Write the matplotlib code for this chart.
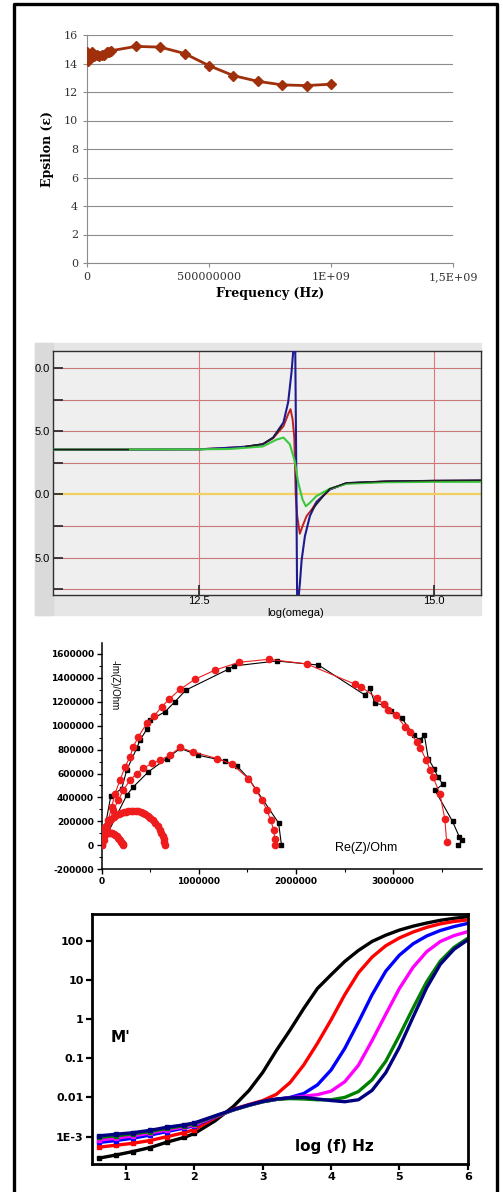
import numpy as np
import matplotlib
matplotlib.use('Agg')
import matplotlib.pyplot as plt
from matplotlib.lines import Line2D
from matplotlib.patches import Rectangle
from matplotlib.ticker import MultipleLocator, FuncFormatter, NullLocator

W, H = 503, 1192  # output size in pixels

# ---- panel 1 : epsilon vs frequency
freq = [1e6, 5e6, 1e7, 2e7, 3e7, 4e7, 5e7, 6e7, 7e7, 8e7, 9e7, 1e8,
        2e8, 3e8, 4e8, 5e8, 6e8, 7e8, 8e8, 9e8, 1e9]
eps = [14.8, 14.2, 14.6, 14.8, 14.5, 14.6, 14.5, 14.6, 14.6, 14.8, 14.8, 14.9,
       15.2, 15.15, 14.7, 13.85, 13.15, 12.75, 12.5, 12.45, 12.55]
freq_ticks = [0, 5e8, 1e9, 1.5e9]
freq_ticklabels = ['0', '500000000', '1E+09', '1,5E+09']

# ---- panel 2 : eps'(log omega), three dampings (+ black reference)
w_blue = [10.95, 12.0, 12.5, 12.83, 13.0, 13.18, 13.29, 13.40, 13.45, 13.486, 13.50, 13.51,
          13.525, 13.535, 13.545, 13.56, 13.575, 13.593, 13.628, 13.681, 13.752, 13.894,
          14.07, 14.5, 15.0, 15.5]
e_blue = [3.55, 3.55, 3.57, 3.7, 3.78, 3.97, 4.5, 5.7, 7.3, 9.7, 11.0, 11.8,
          11.8, 3.0, -8.0, -8.2, -7.0, -5.2, -3.3, -1.7, -0.6, 0.4,
          0.9, 1.03, 1.08, 1.1]
w_red = [10.95, 12.5, 12.83, 13.0, 13.18, 13.29, 13.40, 13.45, 13.475, 13.497, 13.515,
         13.53, 13.546, 13.574, 13.603, 13.646, 13.70, 13.75, 13.89, 14.07, 14.5, 15.0, 15.5]
e_red = [3.55, 3.57, 3.7, 3.78, 3.97, 4.45, 5.4, 6.35, 6.75, 5.95, 4.5,
         0.0, -1.7, -3.1, -2.5, -1.7, -1.2, -0.6, 0.4, 0.88, 1.03, 1.08, 1.1]
w_green = [10.95, 12.5, 12.83, 13.18, 13.33, 13.40, 13.468, 13.52, 13.557, 13.603, 13.638,
           13.68, 13.75, 13.89, 14.07, 14.5, 15.0, 15.5]
e_green = [3.55, 3.57, 3.6, 3.8, 4.35, 4.5, 3.97, 2.64, 0.93, -0.4, -0.93,
           -0.66, -0.13, 0.45, 0.85, 0.97, 1.0, 1.0]
w_black = [10.95, 11.75, np.nan, 13.0, 13.18, 13.29, 13.38, np.nan,
           13.70, 13.89, 14.07, 14.5, 15.0, 15.5]
e_black = [3.55, 3.55, np.nan, 3.8, 4.0, 4.5, 5.4, np.nan,
           -1.25, 0.45, 0.92, 1.05, 1.1, 1.12]
eps_ticks = [-7.5, -5.0, -2.5, 0.0, 2.5, 5.0, 7.5, 10.0]
eps_ticklabels = ['', '5.0', '', '0.0', '', '5.0', '', '0.0']

# ---- panel 3 : Nyquist plot, values in MOhm
big_red_x = [0.0, 0.034, 0.068, 0.103, 0.137, 0.188, 0.24, 0.291, 0.325, 0.377, 0.463, 0.538,
             0.617, 0.696, 0.806, 0.96, 1.166, 1.416, 1.72, 2.11, 2.61, 2.67, 2.83, 2.90,
             2.95, 3.03, 3.12, 3.17, 3.24, 3.28, 3.34, 3.38, 3.41, 3.48, 3.53, 3.55]
big_red_y = [0.0, 0.098, 0.209, 0.32, 0.433, 0.544, 0.655, 0.739, 0.823, 0.906, 1.018, 1.08,
             1.157, 1.222, 1.303, 1.387, 1.464, 1.529, 1.554, 1.515, 1.345, 1.325, 1.228, 1.18,
             1.13, 1.088, 0.99, 0.948, 0.865, 0.81, 0.71, 0.63, 0.57, 0.43, 0.223, 0.028]
big_blk_x = [0.0, 0.093, 0.206, 0.257, 0.36, 0.394, 0.463, 0.497, 0.651, 0.754, 0.867, 1.30,
             1.36, 1.80, 2.23, 2.71, 2.76, 2.81, 2.92, 2.98, 3.09, 3.21, 3.27, 3.32, 3.36,
             3.42, 3.46, 3.51, 3.43, 3.61, 3.68, 3.71, 3.67]
big_blk_y = [0.0, 0.41, 0.474, 0.628, 0.81, 0.879, 0.968, 1.046, 1.115, 1.2, 1.297, 1.47,
             1.498, 1.54, 1.506, 1.255, 1.31, 1.186, 1.17, 1.124, 1.06, 0.92, 0.88, 0.92, 0.725,
             0.64, 0.57, 0.51, 0.46, 0.20, 0.07, 0.042, 0.0]
mid_red_x = [0.0, 0.024, 0.051, 0.085, 0.119, 0.171, 0.222, 0.291, 0.36, 0.428, 0.514, 0.6,
             0.703, 0.806, 0.94, 1.19, 1.34, 1.51, 1.59, 1.65, 1.70, 1.74, 1.77, 1.78, 1.78]
mid_red_y = [0.0, 0.042, 0.126, 0.209, 0.293, 0.377, 0.46, 0.544, 0.6, 0.642, 0.684, 0.711,
             0.753, 0.818, 0.78, 0.725, 0.678, 0.558, 0.46, 0.377, 0.293, 0.209, 0.126, 0.056, 0.0]
mid_blk_x = [0.0, 0.257, 0.325, 0.48, 0.668, 0.81, 0.99, 1.27, 1.395, 1.51, 1.82, 1.85]
mid_blk_y = [0.0, 0.418, 0.488, 0.614, 0.725, 0.81, 0.753, 0.705, 0.66, 0.56, 0.187, 0.0]
small_red_x = [0.0, 0.01, 0.02, 0.035, 0.05, 0.075, 0.1, 0.125, 0.15, 0.175, 0.2, 0.225,
               0.25, 0.275, 0.3, 0.325, 0.35, 0.375, 0.4, 0.425, 0.45, 0.475, 0.5, 0.525,
               0.55, 0.575, 0.6, 0.615, 0.63, 0.64, 0.645, 0.65]
small_red_y = [0.05, 0.09, 0.12, 0.15, 0.17, 0.2, 0.22, 0.24, 0.25, 0.262, 0.27, 0.276,
               0.28, 0.283, 0.285, 0.285, 0.285, 0.283, 0.28, 0.272, 0.262, 0.248, 0.23, 0.21,
               0.19, 0.165, 0.13, 0.105, 0.075, 0.05, 0.025, 0.0]
tiny_red_x = [0.0, 0.01, 0.02, 0.035, 0.05, 0.065, 0.08, 0.095, 0.11, 0.125, 0.14, 0.155,
              0.17, 0.18, 0.19, 0.2, 0.21, 0.215, 0.22]
tiny_red_y = [0.03, 0.06, 0.08, 0.095, 0.1, 0.104, 0.105, 0.104, 0.1, 0.094, 0.085, 0.075,
              0.065, 0.055, 0.042, 0.03, 0.018, 0.008, 0.0]

# ---- panel 4 : M' vs log f, stored as log10(M')
lf = [0.6, 0.85, 1.1, 1.35, 1.6, 1.85, 2.0, 2.3, 2.57, 2.8, 3.0, 3.2, 3.4, 3.6, 3.8, 4.0,
      4.2, 4.4, 4.6, 4.8, 5.0, 5.2, 5.4, 5.6, 5.8, 6.0]
lm_black = [-3.55, -3.47, -3.38, -3.28, -3.14, -3.02, -2.92, -2.60, -2.23, -1.82, -1.36,
            -0.80, -0.28, 0.27, 0.78, 1.13, 1.47, 1.75, 1.98, 2.14, 2.27, 2.37, 2.45, 2.52,
            2.57, 2.61]
lm_red = [-3.27, -3.22, -3.17, -3.10, -3.0, -2.9, -2.82, -2.52, -2.30, -2.18, -2.08, -1.92,
          -1.62, -1.17, -0.62, -0.02, 0.62, 1.18, 1.58, 1.87, 2.07, 2.22, 2.34, 2.43, 2.49, 2.53]
lm_blue = [-3.15, -3.10, -3.04, -2.96, -2.87, -2.78, -2.72, -2.50, -2.32, -2.20, -2.11,
           -2.05, -2.0, -1.90, -1.68, -1.30, -0.75, -0.08, 0.62, 1.22, 1.63, 1.92, 2.12, 2.26,
           2.36, 2.44]
lm_magenta = [-3.09, -3.04, -2.98, -2.91, -2.83, -2.75, -2.70, -2.49, -2.32, -2.20, -2.11,
              -2.05, -2.01, -1.97, -1.93, -1.84, -1.60, -1.18, -0.55, 0.12, 0.78, 1.32,
              1.72, 1.98, 2.13, 2.23]
lm_green = [-3.02, -2.98, -2.93, -2.87, -2.79, -2.72, -2.67, -2.48, -2.32, -2.20, -2.11,
            -2.05, -2.03, -2.04, -2.06, -2.06, -2.0, -1.85, -1.55, -1.08, -0.42, 0.28,
            0.95, 1.48, 1.83, 2.06]
lm_navy = [-2.98, -2.94, -2.90, -2.84, -2.76, -2.70, -2.65, -2.47, -2.31, -2.19, -2.10,
           -2.04, -2.01, -2.0, -2.04, -2.08, -2.11, -2.06, -1.82, -1.37, -0.72, 0.05,
           0.80, 1.40, 1.78, 2.02]
m_series = [(lm_black, 'black'), (lm_red, '#ff0000'), (lm_blue, '#0000ff'),
            (lm_magenta, '#ff00ff'), (lm_green, '#008000'), (lm_navy, '#000080')]
m_ticks = [1e-3, 1e-2, 1e-1, 1, 10, 100]
m_ticklabels = ['1E-3', '0.01', '0.1', '1', '10', '100']


def box(l, t, r, b):
    # pixel box -> figure fraction rect
    return [l / W, 1 - b / H, (r - l) / W, (b - t) / H]


def ftext(x, y, s, **kw):
    fig.text(x / W, 1 - y / H, s, ha=kw.pop('ha', 'center'), va=kw.pop('va', 'center'), **kw)


fig = plt.figure(figsize=(W / 100, H / 100), dpi=100)
fig.patch.set_facecolor('white')

# outer black frame (open at the bottom)
fig.add_artist(Line2D([14 / W, 14 / W, 497 / W, 497 / W], [0, 1 - 4 / H, 1 - 4 / H, 0],
                      transform=fig.transFigure, color='black', lw=2.4))

# ------------------------------------------------------------ panel 1
ax1 = fig.add_axes(box(87, 35, 453, 263))
ax1.plot(freq, eps, color='#a0300c', lw=2, marker='D', ms=5, zorder=3)
ax1.set_xlim(0, 1.5e9)
ax1.set_ylim(0, 16)
ax1.set_yticks(range(0, 17, 2))
ax1.set_xticks(freq_ticks)
ax1.set_xticklabels(freq_ticklabels)
ax1.grid(axis='y', color='#8c8c8c', lw=0.8)
ax1.set_axisbelow(True)
for s in ['top', 'right']:
    ax1.spines[s].set_visible(False)
for s in ['left', 'bottom']:
    ax1.spines[s].set_color('#8c8c8c')
ax1.tick_params(color='#8c8c8c', labelcolor='#333333', length=3, labelsize=8)
for lbl in ax1.get_xticklabels() + ax1.get_yticklabels():
    lbl.set_fontfamily('DejaVu Serif')
ftext(270, 293, 'Frequency (Hz)', fontsize=9, fontweight='bold', family='DejaVu Serif')
ftext(47, 149, 'Epsilon (\u03b5)', fontsize=9, fontweight='bold', family='DejaVu Serif',
      rotation=90)

# ------------------------------------------------------------ panel 2
fig.add_artist(Rectangle((35 / W, 1 - 615 / H), (481 - 35) / W, 272 / H,
                         transform=fig.transFigure, color='#e6e6e6', zorder=0))
fig.add_artist(Rectangle((35 / W, 1 - 615 / H), 18 / W, 272 / H,
                         transform=fig.transFigure, color='#dadada', zorder=0))
ax2 = fig.add_axes(box(53, 351, 481, 595), facecolor='#efefef')
for v in eps_ticks:
    if v != 0:
        ax2.axhline(v, color='#c87878', lw=0.8, zorder=1)
for v in [12.5, 15.0]:
    ax2.axvline(v, color='#e07878', lw=0.8, zorder=1)
ax2.axhline(0, color='#f2d060', lw=1.6, zorder=1)
ax2.plot(w_red, e_red, color='#c02020', lw=1.4, zorder=2)
ax2.plot(w_blue, e_blue, color='#1c1c90', lw=1.5, zorder=3)
ax2.plot(w_green, e_green, color='#3cc83c', lw=1.5, zorder=4)
ax2.plot(w_black, e_black, color='#202020', lw=1.0, zorder=5)
ax2.set_xlim(10.95, 15.5)
ax2.set_ylim(-7.95, 11.35)
ax2.set_yticks(eps_ticks)
ax2.set_yticklabels(eps_ticklabels)
ax2.set_xticks([12.5, 15.0])
ax2.set_xticklabels(['12.5', '15.0'])
ax2.tick_params(direction='in', length=7, width=1.3, color='#303030', labelsize=8, pad=2)
ax2.tick_params(axis='x', pad=1)
for s in ax2.spines.values():
    s.set_color('#303030')
    s.set_linewidth(1.0)
for lbl in ax2.get_xticklabels() + ax2.get_yticklabels():
    lbl.set_fontfamily('Liberation Sans')
ftext(296, 613, 'log(omega)', fontsize=8, family='Liberation Sans')

# ------------------------------------------------------------ panel 3
ax3 = fig.add_axes(box(101.7, 643, 481.7, 869.3), facecolor='none')
ms = 1e6
for xs, ys in [(big_blk_x, big_blk_y), (mid_blk_x, mid_blk_y)]:
    ax3.plot(np.array(xs) * ms, np.array(ys) * ms, color='black', lw=0.8,
             marker='s', ms=3.5, zorder=3)
for xs, ys in [(big_red_x, big_red_y), (mid_red_x, mid_red_y),
               (small_red_x, small_red_y), (tiny_red_x, tiny_red_y)]:
    ax3.plot(np.array(xs) * ms, np.array(ys) * ms, color='#ee1c1c', lw=0.8,
             marker='o', ms=4.5, zorder=4)
ax3.set_xlim(0, 3.91e6)
ax3.set_ylim(-2e5, 1.69e6)
ax3.xaxis.set_major_locator(MultipleLocator(1e6))
ax3.xaxis.set_minor_locator(MultipleLocator(5e5))
ax3.yaxis.set_major_locator(MultipleLocator(2e5))
ax3.yaxis.set_minor_locator(MultipleLocator(1e5))
fmt = FuncFormatter(lambda v, p: '%d' % round(v))
ax3.xaxis.set_major_formatter(fmt)
ax3.yaxis.set_major_formatter(fmt)
for s in ['top', 'right']:
    ax3.spines[s].set_visible(False)
for s in ['left', 'bottom']:
    ax3.spines[s].set_linewidth(1.1)
ax3.tick_params(which='major', length=3.5, width=1, labelsize=6.5, pad=2)
ax3.tick_params(which='minor', length=2, width=0.8)
for lbl in ax3.get_xticklabels() + ax3.get_yticklabels():
    lbl.set_fontweight('bold')
ftext(115, 685, '-Im(Z)/Ohm', fontsize=7, rotation=-90, family='Liberation Sans')
ftext(366, 848, 'Re(Z)/Ohm', fontsize=9, family='Liberation Sans')

# ------------------------------------------------------------ panel 4
ax4 = fig.add_axes(box(92, 914.3, 467.7, 1164))
lf_arr = np.array(lf)
for lm, c in m_series:
    ax4.plot(lf_arr, 10 ** np.array(lm), color=c, lw=2.4, solid_capstyle='round')
    low = lf_arr <= 2.0
    ax4.plot(lf_arr[low], 10 ** np.array(lm)[low], color=c, lw=0, marker='s', ms=2.2)
ax4.set_yscale('log')
ax4.set_xlim(0.5, 6.0)
ax4.set_ylim(2.0e-4, 471)
ax4.set_yticks(m_ticks)
ax4.set_yticklabels(m_ticklabels)
ax4.yaxis.set_minor_locator(NullLocator())
ax4.set_xticks(range(1, 7))
for s in ax4.spines.values():
    s.set_linewidth(2.0)
ax4.tick_params(length=4, width=1.6, labelsize=8, pad=2)
for lbl in ax4.get_xticklabels() + ax4.get_yticklabels():
    lbl.set_fontweight('bold')
ftext(121, 1037, "M'", fontsize=11, fontweight='bold')
ftext(334, 1147, 'log (f) Hz', fontsize=11, fontweight='bold')

fig.savefig('out.png', dpi=100)
